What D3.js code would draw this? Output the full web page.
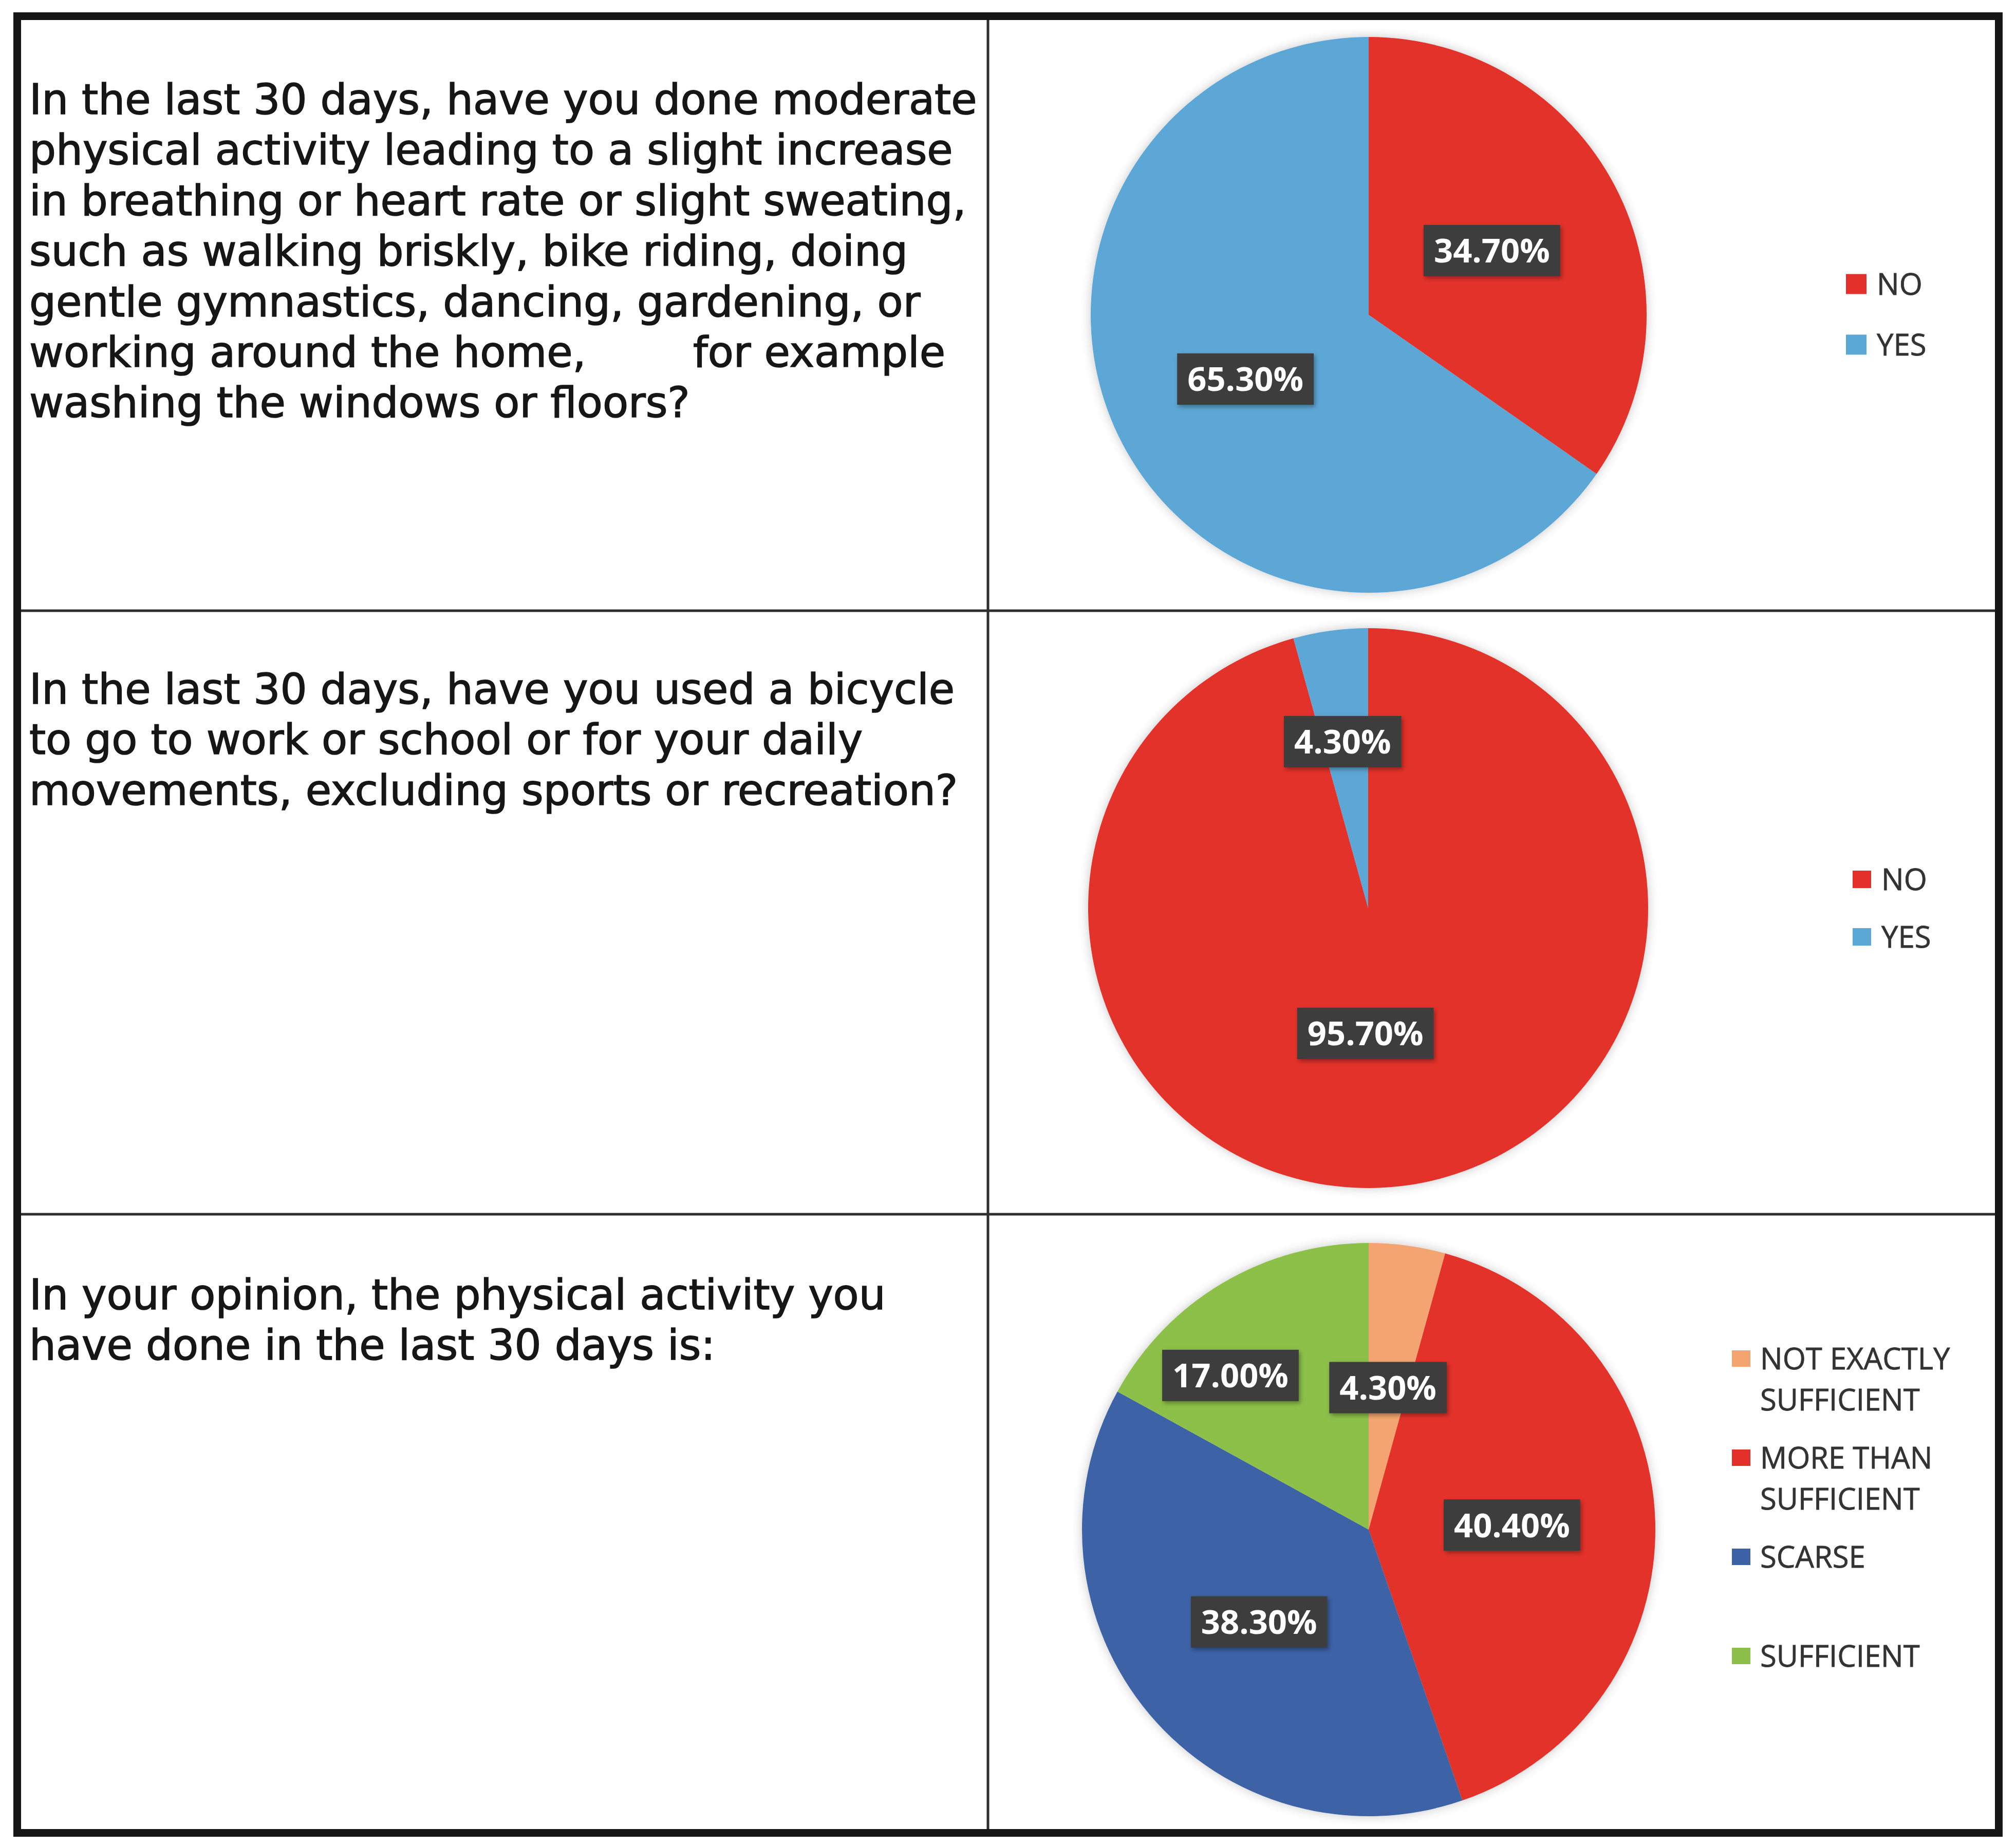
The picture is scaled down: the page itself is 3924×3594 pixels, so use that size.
<!DOCTYPE html>
<html>
<head>
<meta charset="utf-8">
<script src="https://cdn.jsdelivr.net/npm/d3@7"></script>
<style>
  html, body { margin: 0; padding: 0; background: #ffffff; }
  svg { display: block; }
</style>
</head>
<body>
<script>
// ---------------- DATA ----------------
const q1Lines = [
  "In the last 30 days, have you done moderate",
  "physical activity leading to a slight increase",
  "in breathing or heart rate or slight sweating,",
  "such as walking briskly, bike riding, doing",
  "gentle gymnastics, dancing, gardening, or",
  "working around the home,        for example",
  "washing the windows or floors?"
];
const q2Lines = [
  "In the last 30 days, have you used a bicycle",
  "to go to work or school or for your daily",
  "movements, excluding sports or recreation?"
];
const q3Lines = [
  "In your opinion, the physical activity you",
  "have done in the last 30 days is:"
];

const pie1Categories = ["NO", "YES"];
const pie1Values = [34.7, 65.3];

const pie2Categories = ["NO", "YES"];
const pie2Values = [95.7, 4.3];

const pie3Categories = ["NOT EXACTLY SUFFICIENT", "MORE THAN SUFFICIENT", "SCARSE", "SUFFICIENT"];
const pie3LegendLines = [["NOT EXACTLY", "SUFFICIENT"], ["MORE THAN", "SUFFICIENT"], ["SCARSE"], ["SUFFICIENT"]];
const pie3Values = [4.3, 40.4, 38.3, 17.0];

// ---------------- LAYOUT / STYLE ----------------
const W = 3924, H = 3594;
const frame = { x0: 26, y0: 24, x1: 3898, y1: 3576, stroke: 15 };
const colX = 1923;
const rowY = [1189, 2364];

const colorYesNo = d3.scaleOrdinal().domain(["NO", "YES"]).range(["#e3302a", "#5ba7d6"]);
const color3 = d3.scaleOrdinal().domain(pie3Categories).range(["#f4a46f", "#e3302a", "#3c62a6", "#8dc04a"]);

const panels = [
  { cats: pie1Categories, vals: pie1Values, color: colorYesNo,
    cx: 2664, cy: 613, r: 541,
    legend: { x: 3593, y0: 553, step: 118, sw: 40, sh: 39, gap: 20 },
    legendLines: pie1Categories.map(d => [d]),
    nudge: [[0, 0], [0, 0]],
    text: q1Lines, textY0: 222 },
  { cats: pie2Categories, vals: pie2Values, color: colorYesNo,
    cx: 2663, cy: 1768, r: 545,
    legend: { x: 3606, y0: 1712, step: 112, sw: 36, sh: 34, gap: 20 },
    legendLines: pie2Categories.map(d => [d]),
    nudge: [[-42, -26], [-13, -54]],
    text: q2Lines, textY0: 1370 },
  { cats: pie3Categories, vals: pie3Values, color: color3,
    cx: 2664, cy: 2978, r: 558,
    legend: { x: 3371, y0: 2645, step: 193, sw: 36, sh: 32, gap: 19 },
    legendLines: pie3LegendLines,
    nudge: [[0, 0], [0, 0], [0, 0], [-127, -60]],
    text: q3Lines, textY0: 2549 }
];

const textX = 57;
const lineStep = 98.4;
const fmt = v => d3.format(".2f")(v) + "%";

// ---------------- DRAW ----------------
const svg = d3.select("body").append("svg")
  .attr("width", W).attr("height", H)
  .attr("viewBox", `0 0 ${W} ${H}`);

const defs = svg.append("defs");
const f1 = defs.append("filter").attr("id", "pieShadow")
  .attr("x", "-10%").attr("y", "-10%").attr("width", "120%").attr("height", "120%");
f1.append("feDropShadow").attr("dx", 0).attr("dy", 0).attr("stdDeviation", 10)
  .attr("flood-color", "#000").attr("flood-opacity", 0.22);
const f2 = defs.append("filter").attr("id", "boxShadow")
  .attr("x", "-20%").attr("y", "-30%").attr("width", "140%").attr("height", "160%");
f2.append("feDropShadow").attr("dx", 3).attr("dy", 4).attr("stdDeviation", 4)
  .attr("flood-color", "#000").attr("flood-opacity", 0.35);

svg.append("rect").attr("width", W).attr("height", H).attr("fill", "#ffffff");

// Question text - fit size so the first line spans the measured width
const probe = svg.append("text").attr("font-family", "DejaVu Sans").attr("font-size", 100)
  .text(q1Lines[0]);
const probeW = probe.node().getComputedTextLength();
probe.remove();
const qFont = 100 * 1845 / probeW;

panels.forEach(p => {
  const t = svg.append("text")
    .attr("font-family", "DejaVu Sans")
    .attr("font-size", qFont)
    .attr("fill", "#161616")
    .attr("stroke", "#161616").attr("stroke-width", 1.6)
    .style("white-space", "pre");
  p.text.forEach((line, i) => {
    t.append("tspan").attr("x", textX).attr("y", p.textY0 + i * lineStep).text(line);
  });
});

// Pies
panels.forEach(p => {
  const data = p.cats.map((c, i) => ({ cat: c, val: p.vals[i], idx: i }));
  const pie = d3.pie().value(d => d.val).sort(null);
  const arcs = pie(data);
  const arc = d3.arc().innerRadius(0).outerRadius(p.r);
  const g = svg.append("g").attr("transform", `translate(${p.cx},${p.cy})`);
  g.append("g").attr("filter", "url(#pieShadow)")
    .selectAll("path").data(arcs).join("path")
    .attr("d", arc)
    .attr("fill", d => p.color(d.data.cat));

  const lg = g.selectAll("g.lab").data(arcs).join("g").attr("class", "lab")
    .attr("transform", d => {
      const c = arc.centroid(d);
      const n = p.nudge[d.data.idx];
      return `translate(${c[0] + n[0]},${c[1] + n[1]})`;
    });
  lg.each(function(d) {
    const gg = d3.select(this);
    const rect = gg.append("rect").attr("fill", "#3d3d3d").attr("filter", "url(#boxShadow)");
    const tx = gg.append("text")
      .attr("font-family", "Open Sans").attr("font-weight", 700)
      .attr("font-size", 65).attr("fill", "#ffffff")
      .attr("text-anchor", "middle").attr("dy", "0.36em")
      .text(fmt(d.data.val));
    const w = tx.node().getComputedTextLength();
    rect.attr("x", -w / 2 - 20).attr("y", -50).attr("width", w + 40).attr("height", 100);
  });

  // legend
  const L = p.legend;
  const leg = svg.append("g");
  p.cats.forEach((c, i) => {
    const y = L.y0 + i * L.step;
    leg.append("rect").attr("x", L.x).attr("y", y - L.sh / 2)
      .attr("width", L.sw).attr("height", L.sh).attr("fill", p.color(c));
    const t = leg.append("text")
      .attr("font-family", "Open Sans").attr("font-size", 58)
      .attr("fill", "#333333")
      .attr("stroke", "#333333").attr("stroke-width", 0.8);
    p.legendLines[i].forEach((ln, j) => {
      t.append("tspan").attr("x", L.x + L.sw + L.gap).attr("y", y + j * 80)
        .attr("dy", "0.36em").text(ln);
    });
  });
});

// Grid lines
svg.append("line").attr("x1", colX).attr("x2", colX).attr("y1", frame.y0).attr("y2", frame.y1)
  .attr("stroke", "#2e2e2e").attr("stroke-width", 5);
rowY.forEach(y => {
  svg.append("line").attr("x1", frame.x0).attr("x2", frame.x1).attr("y1", y).attr("y2", y)
    .attr("stroke", "#2e2e2e").attr("stroke-width", 5);
});

// Outer frame
const s = frame.stroke;
svg.append("rect")
  .attr("x", frame.x0 + s / 2).attr("y", frame.y0 + s / 2)
  .attr("width", frame.x1 - frame.x0 - s).attr("height", frame.y1 - frame.y0 - s)
  .attr("fill", "none").attr("stroke", "#161616").attr("stroke-width", s);
</script>
</body>
</html>
